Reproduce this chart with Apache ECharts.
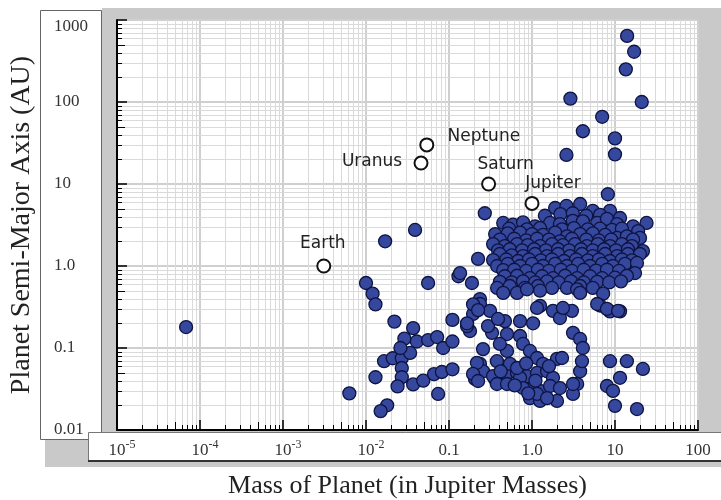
<!DOCTYPE html>
<html><head><meta charset="utf-8">
<script src="https://cdn.jsdelivr.net/npm/echarts@6/dist/echarts.min.js"></script>
<style>html,body{margin:0;padding:0;background:#fff}#c{width:721px;height:500px}</style>
</head><body><div id="c"></div>
<script>
// ---------- data ----------
const xTickBase = ['10','10','10','10','0.1','1.0','10','100'];
const xTickSup  = ['-5','-4','-3','-2','','','',''];
const yTickLabels = ['0.01','0.1','1.0','10','100','1000'];

const solarNames = ['Earth','Uranus','Neptune','Saturn','Jupiter'];
const solarMass  = [0.0031, 0.046, 0.054, 0.30, 1.0];
const solarAxis  = [1.0, 18, 30, 10, 5.8];

// [mass (Jupiter masses), semi-major axis (AU)]
const exoOutliers = [
 [14,640],[17,410],[13.5,250],[21,100],[2.9,110],[7.0,66],[4.1,44],[10,36],[10,23],[2.6,22.6],
 [8.2,7.5],[0.27,4.4],[0.039,2.75],[0.017,2.0],[0.000068,0.18],[0.0063,0.028]
];
const exoLowMass = [
 [0.010,0.62],[0.012,0.46],[0.013,0.34],[0.022,0.21],[0.037,0.175],[0.056,0.62],[0.13,0.75],[0.11,0.22],
 [0.029,0.13],[0.041,0.12],[0.056,0.125],[0.072,0.136],[0.085,0.10],[0.11,0.12],[0.0165,0.069],[0.021,0.075],
 [0.027,0.075],[0.034,0.087],[0.027,0.057],[0.027,0.044],[0.013,0.044],[0.024,0.034],[0.037,0.036],[0.049,0.040],
 [0.066,0.048],[0.082,0.051],[0.11,0.055],[0.074,0.0275],[0.018,0.020],[0.015,0.017],[0.026,0.10]
];
const exoCluster = [
 [1.9,5.1],[2.6,5.4],[3.8,5.7],[5.4,4.7],[8.7,4.7],[1.43,4.1],[11.5,3.85],[2.2,4.3],[3.1,4.4],[4.5,4.1],[6.6,4.2],
 [0.45,3.35],[0.59,3.2],[0.78,3.4],[1.09,3.05],[1.65,3.35],[2.17,3.25],[3.1,3.55],[4.1,3.5],[6.1,3.35],[8.0,3.75],[10.6,3.25],[16.5,3.05],[24,3.35],[19,2.67],
 [0.53,2.85],[0.87,2.8],[1.25,2.9],[2.3,2.8],[3.2,2.9],[4.7,2.8],[6.6,2.85],[9.2,2.75],[12.1,2.85],
 [0.36,2.45],[0.51,2.5],[0.72,2.55],[1.0,2.45],[1.36,2.4],[1.9,2.55],[2.64,2.3],[3.8,2.45],[5.4,2.5],[7.6,2.4],[10.6,2.2],[13.9,2.3],[20,2.2],
 [0.41,2.1],[0.61,2.15],[0.85,2.05],[1.15,2.15],[1.6,2.1],[2.17,2.0],[3.03,2.15],[4.5,2.1],[6.4,2.05],[9.0,2.1],[16.5,2.1],
 [0.34,1.85],[0.47,1.75],[0.66,1.85],[0.89,1.8],[1.25,1.75],[1.74,1.85],[2.36,1.8],[3.3,1.85],[4.6,1.75],[6.2,1.85],[8.7,1.75],[12.1,1.85],[16,1.75],[21.7,1.52],
 [0.39,1.55],[0.54,1.6],[0.76,1.55],[1.06,1.6],[1.47,1.55],[2.06,1.6],[2.8,1.55],[3.9,1.6],[5.4,1.55],[7.4,1.6],[10.3,1.55],[14.3,1.6],
 [0.41,1.4],[0.57,1.35],[0.78,1.32],[1.09,1.4],[1.52,1.32],[2.06,1.4],[2.87,1.32],[4.0,1.4],[5.4,1.32],[7.6,1.4],[10.6,1.32],[14.3,1.4],[20,1.4],
 [0.34,1.18],[0.49,1.2],[0.68,1.15],[0.92,1.2],[1.28,1.17],[1.74,1.2],[2.43,1.15],[3.4,1.2],[4.7,1.17],[6.4,1.2],[8.7,1.15],[12.1,1.2],[16,1.17],
 [0.38,1.0],[0.51,1.06],[0.72,1.0],[1.0,1.06],[1.36,1.0],[1.9,1.06],[2.64,1.0],[3.6,1.06],[5.0,1.0],[7.0,1.06],[9.45,1.0],[13.2,1.06],[18.4,1.09],[17.4,0.82],
 [0.45,0.89],[0.61,0.9],[0.85,0.87],[1.18,0.9],[1.6,0.87],[2.23,0.9],[3.03,0.87],[4.2,0.9],[5.9,0.88],[8.0,0.9],[11.2,0.87],
 [0.47,0.75],[0.66,0.76],[0.945,0.71],[1.32,0.75],[1.79,0.71],[2.5,0.76],[3.5,0.71],[5.0,0.75],[7.0,0.71],[10,0.72],[13.9,0.76],
 [0.41,0.64],[0.57,0.63],[0.78,0.65],[1.09,0.63],[1.52,0.65],[2.1,0.63],[2.95,0.65],[4.2,0.63],[6.1,0.64],[8.5,0.63],[11.8,0.65],
 [0.38,0.54],[0.54,0.57],[0.82,0.54],[1.18,0.57],[1.74,0.54],[2.64,0.54],[3.8,0.57],[5.4,0.54],
 [0.45,0.47],[0.66,0.47],[0.87,0.52],[1.25,0.5],[3.5,0.52],[7.2,0.46],[6.6,0.33],[8.7,0.28],[11.5,0.28],
 [0.224,1.22],[0.136,0.82],[0.189,0.62],[0.236,0.395]
];
const exoHotJupiters = [
 [0.195,0.26],[0.236,0.344],[0.179,0.161],[0.312,0.284],[0.33,0.153],[0.472,0.213],[0.718,0.213],[1.03,0.20],
 [1.25,0.326],[1.79,0.284],[2.17,0.232],[3.03,0.284],[3.8,0.47],[6.1,0.344],[8.0,0.30],[10.9,0.284],[3.12,0.153],
 [3.8,0.129],[4.1,0.10],[0.257,0.097],[0.5,0.148],[0.718,0.14],[0.78,0.112],[0.945,0.092],[1.15,0.0755],[1.36,0.064],
 [2.0,0.0737],[2.3,0.0755],[0.236,0.064],[0.257,0.052],[0.206,0.042],[0.358,0.042],[0.5,0.0483],[0.66,0.0497],
 [0.87,0.0455],[1.15,0.0497],[1.52,0.052],[1.79,0.0433],[1.03,0.0325],[1.25,0.030],[1.65,0.0344],[0.945,0.0245],
 [1.25,0.0226],[2.0,0.0226],[3.5,0.0364],[3.8,0.052],[4.0,0.069],[3.12,0.0275],[8.7,0.069],[13.9,0.069],[21.7,0.0555],
 [11.5,0.0433],[8.0,0.0344],[9.45,0.030],[10,0.0197],[18.4,0.018],[0.217,0.066],[0.195,0.0483],[0.224,0.0396],
 [0.339,0.0455],[0.378,0.0364],[0.5,0.0364],[0.718,0.0433],[0.78,0.0325],[1.15,0.0275],[1.52,0.0245],[2.17,0.0325],
 [0.543,0.064],[0.66,0.057],[0.5,0.092],[0.41,0.112],[0.378,0.069],[3.12,0.0364],[0.295,0.185],[0.389,0.226],
 [1.15,0.308],[2.36,0.308],[0.165,0.185],[0.62,0.035],[0.85,0.065],[1.1,0.04],[0.42,0.052],[0.9,0.028],[1.6,0.06],
 [0.195,0.34],[0.224,0.29],[0.165,0.2]
];

// ---------- chart ----------
const X_MIN = 1e-5, X_MAX = 100, Y_MIN = 0.01, Y_MAX = 1000;
const serif = 'Liberation Serif';

// minor grid positions (k * 10^e, k = 2..9)
const xMinor = [], yMinor = [];
for (let e = -5; e <= 1; e++) for (let k = 2; k <= 9; k++) xMinor.push([k * Math.pow(10, e), 1, k]);
for (let e = -2; e <= 2; e++) for (let k = 2; k <= 9; k++) yMinor.push([1, k * Math.pow(10, e), k]);

const rp = v => Math.round(v) + 0.5;

const chart = echarts.init(document.getElementById('c'), null, {renderer: 'canvas'});

const solarData = solarNames.map((n, i) => ({name: n, value: [solarMass[i], solarAxis[i]]}));
const labelOffsets = {Earth: [-1, -22], Uranus: [-49, -1], Neptune: [57, -8], Saturn: [17, -19], Jupiter: [21, -20]};
solarData.forEach(d => { d.label = {offset: labelOffsets[d.name]}; });

const supStyle = {fontFamily: serif, fontSize: 12, color: '#333', verticalAlign: 'top', lineHeight: 13};
chart.setOption({
  animation: false,
  grid: {left: 117, right: 23, top: 20, bottom: 70, show: false, containLabel: false, outerBoundsMode: 'none'},
  graphic: [
    {type: 'rect', z: -10, shape: {x: 102, y: 8, width: 619, height: 425}, style: {fill: '#c9c9c9'}},
    {type: 'rect', z: -9, shape: {x: 117, y: 20, width: 581, height: 410}, style: {fill: '#ffffff'}},
    {type: 'rect', z: -8, shape: {x: 45, y: 433, width: 676, height: 34}, style: {fill: '#c9c9c9'}},
    {type: 'rect', z: -7, shape: {x: 40.5, y: 10.5, width: 61, height: 429}, style: {fill: '#ffffff', stroke: '#666', lineWidth: 1}},
    {type: 'rect', z: -6, shape: {x: 88.5, y: 432.5, width: 640, height: 28}, style: {fill: '#ffffff', stroke: '#777', lineWidth: 1}},
    {type: 'line', z: -5, shape: {x1: 88, y1: 461, x2: 721, y2: 461}, style: {stroke: '#333', lineWidth: 2}}
  ],
  xAxis: {
    type: 'log', logBase: 10, min: X_MIN, max: X_MAX, splitNumber: 7,
    name: 'Mass of Planet (in Jupiter Masses)', nameLocation: 'middle', nameGap: 43,
    nameTextStyle: {fontFamily: serif, fontSize: 26, color: '#222'},
    axisLine: {show: true, onZero: false, lineStyle: {color: '#000', width: 2}},
    axisTick: {show: true, inside: true, length: 10, lineStyle: {color: '#000', width: 1.5}},
    splitLine: {show: true, lineStyle: {color: '#cfcfcf', width: 2}},
    axisLabel: {
      margin: 9, showMinLabel: true, showMaxLabel: true, interval: 0,
      formatter: function (v) {
        const i = Math.round(Math.log10(v)) + 5;
        if (i < 0 || i >= xTickBase.length) return '';
        const s = xTickSup[i];
        return s ? '{h|' + s + '}{b|' + xTickBase[i] + '}{s|' + s + '}' : '{b|' + xTickBase[i] + '}';
      },
      rich: {
        b: {fontFamily: serif, fontSize: 17, color: '#333', lineHeight: 20, verticalAlign: 'bottom'},
        s: supStyle,
        h: Object.assign({}, supStyle, {color: 'rgba(0,0,0,0)'})
      }
    }
  },
  yAxis: {
    type: 'log', logBase: 10, min: Y_MIN, max: Y_MAX, splitNumber: 5,
    name: 'Planet Semi-Major Axis (AU)', nameLocation: 'middle', nameGap: 81,
    nameTextStyle: {fontFamily: serif, fontSize: 28, color: '#222'},
    axisLine: {show: true, onZero: false, lineStyle: {color: '#000', width: 2}},
    axisTick: {show: true, inside: true, length: 10, lineStyle: {color: '#000', width: 1.5}},
    splitLine: {show: true, lineStyle: {color: '#cfcfcf', width: 2}},
    axisLabel: {
      margin: 63, align: 'left', showMinLabel: true, showMaxLabel: true,
      formatter: function (v) {
        const i = Math.round(Math.log10(v)) + 2;
        const t = yTickLabels[i];
        if (t === undefined) return '';
        return i === yTickLabels.length - 1 ? '{t|' + t + '}' : '{n|' + t + '}';
      },
      rich: {
        n: {fontFamily: serif, fontSize: 17, color: '#333'},
        t: {fontFamily: serif, fontSize: 17, color: '#333', padding: [14, 0, 0, 0]}
      }
    }
  },
  series: [
    {
      type: 'custom', silent: true, z: 1, data: xMinor,
      renderItem: function (params, api) {
        const v = api.value(0), k = api.value(2);
        const bot = api.coord([v, Y_MIN]), top = api.coord([v, Y_MAX]);
        const x = rp(bot[0]);
        const tl = k === 5 ? 8 : 5;
        return {type: 'group', children: [
          {type: 'line', shape: {x1: x, y1: top[1], x2: x, y2: bot[1]}, style: {stroke: '#dadada', lineWidth: 1}},
          {type: 'line', shape: {x1: x, y1: bot[1], x2: x, y2: bot[1] - tl}, style: {stroke: '#000', lineWidth: 1}}
        ]};
      }
    },
    {
      type: 'custom', silent: true, z: 1, data: yMinor,
      renderItem: function (params, api) {
        const v = api.value(1), k = api.value(2);
        const l = api.coord([X_MIN, v]), r = api.coord([X_MAX, v]);
        const y = rp(l[1]);
        const tl = k === 5 ? 8 : 5;
        return {type: 'group', children: [
          {type: 'line', shape: {x1: l[0], y1: y, x2: r[0], y2: y}, style: {stroke: '#dadada', lineWidth: 1}},
          {type: 'line', shape: {x1: l[0], y1: y, x2: l[0] + tl, y2: y}, style: {stroke: '#000', lineWidth: 1}}
        ]};
      }
    },
    {
      type: 'scatter', z: 3, symbol: 'circle', symbolSize: 13, silent: true,
      data: [].concat(exoOutliers, exoLowMass, exoCluster, exoHotJupiters),
      itemStyle: {color: '#36489e', borderColor: '#0e1442', borderWidth: 1.3, opacity: 1}
    },
    {
      type: 'scatter', z: 4, symbol: 'circle', symbolSize: 13, silent: true,
      data: solarData,
      itemStyle: {color: '#ffffff', borderColor: '#111', borderWidth: 2, opacity: 1},
      label: {show: true, position: 'inside', formatter: '{b}', fontFamily: 'DejaVu Sans', fontSize: 17, color: '#222'}
    }
  ]
});
</script></body></html>
